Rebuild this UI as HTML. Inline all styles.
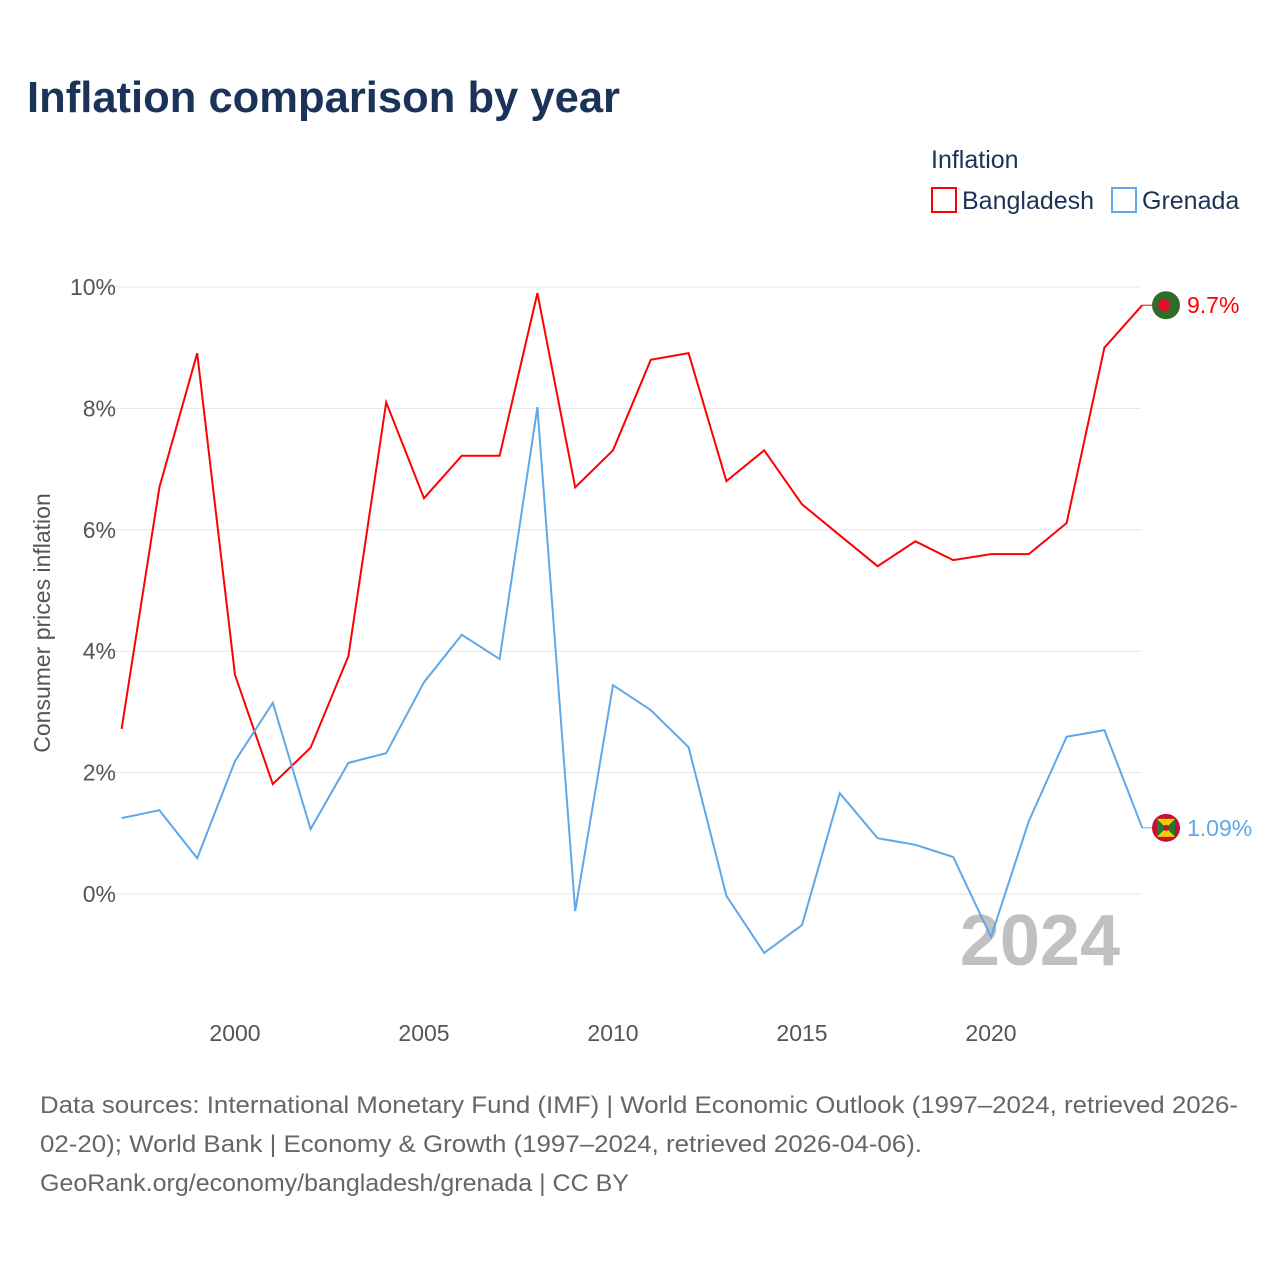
<!DOCTYPE html>
<html><head><meta charset="utf-8">
<style>
body{margin:0;background:#fff;font-family:"Liberation Sans",sans-serif;}
#wrap{position:relative;width:1280px;height:1280px;}
</style></head>
<body>
<div id="wrap">
<svg id="chart" width="1280" height="1280" xmlns="http://www.w3.org/2000/svg">
<text x="27" y="112" font-size="44" font-weight="bold" fill="#1b3358" textLength="593" lengthAdjust="spacingAndGlyphs">Inflation comparison by year</text>
<text x="931" y="168" font-size="25" fill="#1b3358">Inflation</text>
<g>
<rect x="932" y="188" width="24" height="24" fill="none" stroke="#f00" stroke-width="2"/>
<text x="962" y="209" font-size="25" fill="#1b3358">Bangladesh</text></g>
<g>
<rect x="1112" y="188" width="24" height="24" fill="none" stroke="#5ea8ea" stroke-width="2"/>
<text x="1142" y="209" font-size="25" fill="#1b3358">Grenada</text></g>
<text transform="translate(50,623) rotate(-90)" text-anchor="middle" font-size="23" fill="#555">Consumer prices inflation</text>
<g id="grid"></g><g id="yticks"></g><g id="xticks"></g>
<text x="1120" y="965" text-anchor="end" font-size="72" font-weight="bold" fill="#c0c0c0">2024</text>
<g id="series"></g>
<text x="40" y="1113" font-size="24" fill="#666" textLength="1198" lengthAdjust="spacingAndGlyphs">Data sources: International Monetary Fund (IMF) | World Economic Outlook (1997–2024, retrieved 2026-</text>
<text x="40" y="1152" font-size="24" fill="#666" textLength="882" lengthAdjust="spacingAndGlyphs">02-20); World Bank | Economy &amp; Growth (1997–2024, retrieved 2026-04-06).</text>
<text x="40" y="1191" font-size="24" fill="#666" textLength="589" lengthAdjust="spacingAndGlyphs">GeoRank.org/economy/bangladesh/grenada | CC BY</text>
</svg></div>
<script>
const years=[1997,1998,1999,2000,2001,2002,2003,2004,2005,2006,2007,2008,2009,2010,2011,2012,2013,2014,2015,2016,2017,2018,2019,2020,2021,2022,2023,2024];
const bangladesh=[2.72,6.7,8.91,3.61,1.81,2.41,3.92,8.1,6.52,7.22,7.22,9.9,6.7,7.31,8.8,8.91,6.8,7.31,6.42,5.91,5.4,5.81,5.5,5.6,5.6,6.11,9.0,9.7];
const grenada=[1.25,1.38,0.59,2.19,3.15,1.07,2.16,2.32,3.49,4.27,3.87,8.02,-0.28,3.44,3.03,2.42,-0.03,-0.97,-0.51,1.66,0.92,0.81,0.61,-0.71,1.2,2.59,2.7,1.09];
const yTicks=[0,2,4,6,8,10];
const xTicks=[2000,2005,2010,2015,2020];
const NS="http://www.w3.org/2000/svg";
const X=y=>121.6+(y-1997)*37.8;
const Y=v=>894-v*60.7;
function mk(t,a,p){const e=document.createElementNS(NS,t);for(const k in a)e.setAttribute(k,a[k]);p.appendChild(e);return e;}
const grid=document.getElementById('grid'),yt=document.getElementById('yticks'),xt=document.getElementById('xticks'),ser=document.getElementById('series');
yTicks.forEach(v=>{
 const l=mk('line',{x1:100,x2:1141,y1:Y(v),y2:Y(v),stroke:'#e6e6e6','stroke-width':1},grid);
 
 
 const t=mk('text',{x:116,y:Y(v)+8,'text-anchor':'end','font-size':23,fill:'#555'},yt);
 t.textContent=v+'%';
 
 
});
xTicks.forEach(v=>{
 const t=mk('text',{x:X(v),y:1041,'text-anchor':'middle','font-size':23,fill:'#555'},xt);
 t.textContent=v;
 
 
});
function draw(vals,color,name,label,flag){
 const d=vals.map((v,i)=>(i?'L':'M')+X(years[i]).toFixed(1)+','+Y(v).toFixed(1)).join(' ');
 const p=mk('path',{d:d,fill:'none',stroke:color,'stroke-width':2},ser);
 
 
 const last=vals[vals.length-1],ly=Y(last);
 mk('line',{x1:X(2024),x2:1152,y1:ly,y2:ly,stroke:color,'stroke-width':1},ser);
 const g=mk('g',{},ser);
 
 
 if(flag==='bd'){mk('circle',{cx:1166,cy:ly,r:14,fill:'#2f6b2a'},g);mk('circle',{cx:1164,cy:ly,r:6,fill:'#e0102a'},g);}
 else{mk('circle',{cx:1166,cy:ly,r:14,fill:'#c8102e'},g);mk('rect',{x:1157,y:ly-9,width:18,height:18,fill:'#f5d000'},g);mk('path',{d:`M1157,${ly-9} L1166,${ly} L1157,${ly+9}Z M1175,${ly-9} L1166,${ly} L1175,${ly+9}Z`,fill:'#1f7a3a'},g);mk('circle',{cx:1166,cy:ly,r:3,fill:'#c8102e'},g);}
 const t=mk('text',{x:1187,y:ly+8,'font-size':23,fill:color},ser);
 t.textContent=label;
 
 
}
draw(bangladesh,'#ff0000','bangladesh',bangladesh[bangladesh.length-1]+'%','bd');
draw(grenada,'#5ea8ea','grenada',grenada[grenada.length-1]+'%','gd');
</script>
</body></html>
